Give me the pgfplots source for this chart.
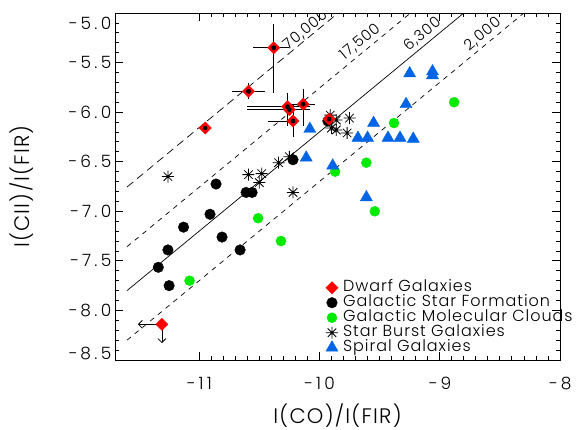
\documentclass[border=0pt]{standalone}
\usepackage{fontspec}
\setmainfont{Poppins Light}[LetterSpace=6]
\newfontfamily\widefont{Poppins Light}[LetterSpace=20]
\usepackage{pgfplots}
\pgfplotsset{compat=1.18}
\usetikzlibrary{arrows.meta}

\definecolor{dwarfred}{RGB}{255,0,0}
\definecolor{molgreen}{RGB}{0,235,0}
\definecolor{spiralblue}{RGB}{0,100,230}

% IDL style asterisk (plus and cross)
\pgfdeclareplotmark{star8}{%
  \pgfpathmoveto{\pgfqpoint{0pt}{\pgfplotmarksize}}\pgfpathlineto{\pgfqpoint{0pt}{-\pgfplotmarksize}}%
  \pgfpathmoveto{\pgfqpoint{\pgfplotmarksize}{0pt}}\pgfpathlineto{\pgfqpoint{-\pgfplotmarksize}{0pt}}%
  \pgfpathmoveto{\pgfqpoint{.707\pgfplotmarksize}{.707\pgfplotmarksize}}\pgfpathlineto{\pgfqpoint{-.707\pgfplotmarksize}{-.707\pgfplotmarksize}}%
  \pgfpathmoveto{\pgfqpoint{-.707\pgfplotmarksize}{.707\pgfplotmarksize}}\pgfpathlineto{\pgfqpoint{.707\pgfplotmarksize}{-.707\pgfplotmarksize}}%
  \pgfusepathqstroke}

\begin{document}
\begin{tikzpicture}
\useasboundingbox (-115bp,-70bp) rectangle (462bp,360bp);
\begin{axis}[
    at={(0,0)}, anchor=south west,
    scale only axis, width=445bp, height=347bp,
    xmin=-11.7, xmax=-8, ymin=-8.5, ymax=-5,
    axis line style={line width=0.8bp},
    tick style={black, line width=0.8bp},
    major tick length=8bp, minor tick length=4bp,
    xtick={-11,-10,-9,-8},
    xticklabels={−11,−10,−9,−8},
    ytick={-8.5,-8,-7.5,-7,-6.5,-6,-5.5,-5},
    yticklabels={{},−8.0,−7.5,−7.0,−6.5,−6.0,−5.5,{}},
    extra y ticks={-8.43,-5.10},
    extra y tick labels={−8.5,−5.0},
    extra y tick style={major tick length=0pt, tick style={draw=none}},
    minor x tick num=9, minor y tick num=4,
    tick label style={font=\widefont\fontsize{17bp}{20bp}\selectfont},
    xticklabel style={yshift=-14bp},
    xlabel={I(CO)/I(FIR)},
    ylabel={I(CII)/I(FIR)},
    label style={font=\fontsize{21bp}{24bp}\selectfont},
    x label style={at={(axis description cs:0.5,-0.16)}, anchor=center},
    y label style={at={(axis description cs:-0.211,0.5)}, anchor=center},
    legend image code/.code={\draw[#1] plot coordinates {(0bp,0bp)};},
    legend cell align=left,
    legend style={at={(axis description cs:0.4735,0.229)}, anchor=north west,
      draw=none, fill=none, inner sep=0pt, row sep=1bp,
      font=\fontsize{16bp}{16bp}\selectfont,
      nodes={inner sep=0pt, text height=11bp, text depth=3bp},
      /tikz/column 1/.style={column sep=5bp}},
  ]

% constant I(CII)/I(CO) ratio lines
\addplot[forget plot, black, line width=0.7bp, dash pattern=on 8bp off 5bp]
  coordinates {(-11.6,-6.755) (-9.845,-5.0)}
  node[pos=0.868, sloped, above, inner sep=0.5bp, font=\fontsize{15bp}{15bp}\selectfont] {70,000};
\addplot[forget plot, black, line width=0.7bp, dash pattern=on 5bp off 5bp]
  coordinates {(-11.6,-7.357) (-9.243,-5.0)}
  node[pos=0.844, sloped, above, inner sep=3bp, font=\fontsize{15bp}{15bp}\selectfont] {17,500};
\addplot[forget plot, black, line width=0.7bp]
  coordinates {(-11.6,-7.80) (-8.80,-5.0)}
  node[pos=0.896, sloped, above, inner sep=3bp, font=\fontsize{15bp}{15bp}\selectfont] {6,300};
\addplot[forget plot, black, line width=0.7bp, dash pattern=on 5bp off 5bp]
  coordinates {(-11.6,-8.30) (-8.30,-5.0)}
  node[pos=0.912, sloped, above, inner sep=3bp, font=\fontsize{15bp}{15bp}\selectfont] {2,000};

% Galactic molecular clouds
\addplot[forget plot, only marks, mark=*, mark size=5bp, mark options={draw=molgreen, fill=molgreen}]
  coordinates {(-11.08,-7.70) (-10.51,-7.07) (-10.32,-7.30) (-9.87,-6.60)
               (-9.61,-6.51) (-9.54,-7.00) (-9.38,-6.11) (-8.88,-5.90)};
% Galactic star formation
\addplot[forget plot, only marks, mark=*, mark size=5.3bp, mark options={draw=black, fill=black}]
  coordinates {(-10.86,-6.725) (-10.61,-6.81) (-10.56,-6.81) (-10.91,-7.03)
               (-11.13,-7.16) (-10.81,-7.26) (-11.26,-7.39) (-10.66,-7.39)
               (-11.34,-7.565) (-11.25,-7.75) (-10.22,-6.48) (-9.93,-6.09)};
% Spiral galaxies
\addplot[forget plot, only marks, mark=triangle*, mark size=7bp, mark options={draw=spiralblue, fill=spiralblue}]
  coordinates {(-9.25,-5.61) (-9.06,-5.59) (-9.06,-5.63) (-9.28,-5.92)
               (-9.55,-6.11) (-10.08,-6.17) (-9.68,-6.26) (-9.60,-6.26)
               (-9.43,-6.26) (-9.33,-6.26) (-9.22,-6.27) (-10.11,-6.46)
               (-9.89,-6.54) (-9.61,-6.86)};
% Star burst galaxies
\addplot[forget plot, only marks, mark=star8, mark size=6bp, mark options={black, line width=0.8bp}]
  coordinates {(-11.26,-6.65) (-10.59,-6.63) (-10.48,-6.62) (-10.50,-6.71)
               (-10.34,-6.51) (-10.25,-6.45) (-10.22,-6.81) (-9.91,-6.03)
               (-9.86,-6.08) (-9.90,-6.16) (-9.86,-6.18) (-9.75,-6.06)
               (-9.77,-6.21)};
% Dwarf galaxies
\addplot[forget plot, only marks, mark=square*, mark size=4.3bp, mark options={rotate=45, draw=dwarfred, fill=dwarfred}]
  coordinates {(-10.38,-5.35) (-10.59,-5.79) (-10.95,-6.16) (-10.265,-5.945)
               (-10.25,-5.975) (-10.135,-5.92) (-10.22,-6.09) (-9.92,-6.07)
               (-11.31,-8.14)};
% dwarf error bars, x direction (no caps)
\addplot[forget plot, only marks, mark=none,
    error bars/.cd, x dir=both, x explicit, error mark=none,
    error bar style={black, line width=0.8bp}]
  coordinates {(-10.38,-5.35) += (0.13,0) -= (0.17,0)
               (-10.59,-5.79) +- (0.14,0)
               (-10.95,-6.16) +- (0.02,0)
               (-10.265,-5.945) += (0.185,0) -= (0.335,0)
               (-10.25,-5.975) += (0.17,0) -= (0.35,0)
               (-10.135,-5.92) += (0.095,0) -= (0.115,0)
               (-10.22,-6.09) += (0.04,0) -= (0.21,0)
               (-9.92,-6.07) +- (0.04,0)};
% dwarf error bars, y direction (with caps)
\addplot[forget plot, only marks, mark=none,
    error bars/.cd, y dir=both, y explicit, error mark=-,
    error bar style={black, line width=0.8bp},
    error mark options={black, mark size=2.5bp, line width=0.8bp}]
  coordinates {(-10.38,-5.35) += (0,0.21) -= (0,0.43)
               (-10.59,-5.79) +- (0,0.055)
               (-10.265,-5.945) += (0,0.115) -= (0,0.165)
               (-10.135,-5.92) += (0,0.13) -= (0,0.19)
               (-10.22,-6.09) +- (0,0.14)
               (-9.92,-6.07) +- (0,0.04)};
% upper limits
\addplot[forget plot, black, line width=0.8bp, -{Straight Barb[length=4bp]}, quiver={u=-0.2, v=0}]
  coordinates {(-11.31,-8.14)};
\addplot[forget plot, black, line width=0.8bp, -{Straight Barb[length=4bp]}, quiver={u=0, v=-0.19}]
  coordinates {(-11.31,-8.14)};

\addlegendimage{only marks, mark=square*, mark size=4.3bp, mark options={rotate=45, draw=dwarfred, fill=dwarfred}}
\addlegendentry{Dwarf Galaxies}
\addlegendimage{only marks, mark=*, mark size=5.3bp, mark options={draw=black, fill=black}}
\addlegendentry{Galactic Star Formation}
\addlegendimage{only marks, mark=*, mark size=5bp, mark options={draw=molgreen, fill=molgreen}}
\addlegendentry{Galactic Molecular Clouds}
\addlegendimage{only marks, mark=star8, mark size=6bp, mark options={black, line width=0.8bp}}
\addlegendentry{Star Burst Galaxies}
\addlegendimage{only marks, mark=triangle*, mark size=7bp, mark options={draw=spiralblue, fill=spiralblue}}
\addlegendentry{Spiral Galaxies}
\end{axis}
\end{tikzpicture}
\end{document}
